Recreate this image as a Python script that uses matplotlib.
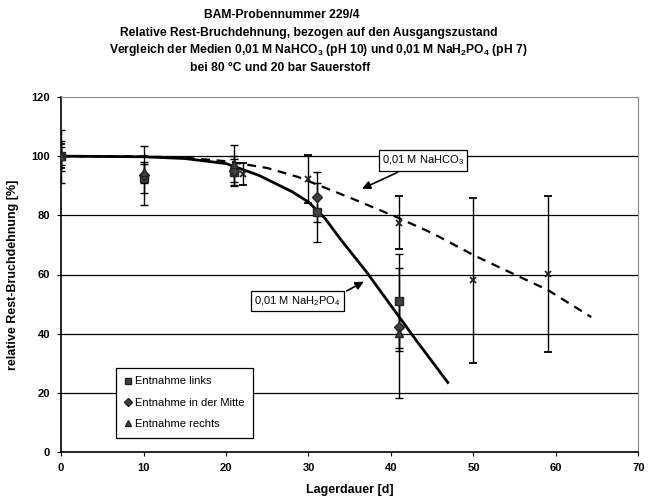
import matplotlib.pyplot as plt

plt.rcParams['font.family'] = ['Liberation Sans', 'DejaVu Sans']
plt.rcParams['mathtext.fontset'] = 'custom'
plt.rcParams['mathtext.rm'] = 'Liberation Sans'
plt.rcParams['mathtext.bf'] = 'Liberation Sans:bold'

# Entnahme links (Quadrat)
days_links = [0, 10, 21, 31, 41]
val_links = [100, 92.5, 94.7, 81, 51]
err_links = [9, 5, 4.4, 10, 16]

# Entnahme in der Mitte (Raute)
days_mitte = [0, 10, 21, 31, 41]
val_mitte = [100, 93.5, 95, 86.2, 42.3]
err_mitte = [3, 10, 5, 8.6, 8]

# Entnahme rechts (Dreieck)
days_rechts = [0, 10, 21, 41]
val_rechts = [100, 94.5, 97.5, 40.2]
err_rechts = [5, 3.5, 6.3, 22]

# NaHCO3-Proben (x)
days_hco3 = [0, 22, 30, 41, 50, 59]
val_hco3 = [100, 94, 92.3, 77.5, 58, 60.2]
err_hco3 = [4, 3.8, 8, 9, 28, 26.5]

# Trendlinien
trend_po4_x = [0, 10, 15, 20, 24, 28, 30, 32, 34, 37, 40, 43, 46.9]
trend_po4_y = [100, 99.8, 99.2, 97.5, 93.5, 88, 84.5, 79, 71.5, 61, 49.5, 38, 23.5]
trend_hco3_x = [0, 10, 15, 20, 25, 28.7, 31.4, 35, 40.6, 45, 50.2, 55, 59, 64.3]
trend_hco3_y = [100, 99.9, 99.5, 98.3, 96, 93, 90, 86, 79.5, 74, 66.3, 60, 54.8, 45.6]

fig = plt.figure(figsize=(6.5, 5), dpi=100)
ax = fig.add_axes([0.094, 0.096, 0.888, 0.71])

for y in [20, 40, 60, 80, 100]:
    ax.axhline(y, color='black', lw=0.9, zorder=1)

ax.plot(trend_po4_x, trend_po4_y, color='black', lw=2, zorder=3)
ax.plot(trend_hco3_x, trend_hco3_y, color='black', lw=1.6, dashes=(4, 3), zorder=3)

eb = dict(ecolor='black', elinewidth=1, capsize=3, capthick=1, linestyle='none', zorder=4)
ax.errorbar(days_hco3, val_hco3, yerr=err_hco3, marker='x', ms=5, mec='#222222', mew=1.3, **eb)
ax.errorbar(days_links, val_links, yerr=err_links, marker='s', ms=6, color='#404040', mec='#222222',
            label='Entnahme links', **eb)
ax.errorbar(days_mitte, val_mitte, yerr=err_mitte, marker='D', ms=5, color='#404040', mec='#222222',
            label='Entnahme in der Mitte', **eb)
ax.errorbar(days_rechts, val_rechts, yerr=err_rechts, marker='^', ms=6, color='#404040', mec='#222222',
            label='Entnahme rechts', **eb)

ax.set_xlim(0, 70)
ax.set_ylim(0, 120)
ax.set_xticks(range(0, 71, 10))
ax.set_yticks(range(0, 121, 20))
ax.tick_params(labelsize=8, length=3, width=0.8, pad=5)
for lab in ax.get_xticklabels() + ax.get_yticklabels():
    lab.set_fontweight('bold')
for s in ['top', 'right']:
    ax.spines[s].set_color('#888888')
for s in ['left', 'bottom']:
    ax.spines[s].set_linewidth(1.2)

ax.set_xlabel('Lagerdauer [d]', fontsize=9, fontweight='bold', labelpad=8)
ax.set_ylabel('relative Rest-Bruchdehnung [%]', fontsize=9, fontweight='bold', labelpad=9)

handles, labels = ax.get_legend_handles_labels()
handles = [h[0] for h in handles]
leg = ax.legend(handles, labels, loc='lower left', bbox_to_anchor=(0.085, 0.025), fontsize=8,
                frameon=True, fancybox=False, edgecolor='black', framealpha=1, handlelength=0.6,
                handletextpad=0.3, labelspacing=1.0, borderpad=0.8, markerscale=0.8)
leg.get_frame().set_linewidth(0.9)

box = dict(boxstyle='square,pad=0.3', fc='white', ec='black', lw=0.9)
arrow = dict(arrowstyle='-|>', color='black', lw=1.2, mutation_scale=12)
ax.annotate('0,01 M NaHCO$_{3}$', xy=(36.2, 88.6), xytext=(38.9, 98.5), fontsize=8,
            va='center', ha='left', bbox=box, arrowprops=arrow, zorder=6)
ax.annotate('0,01 M NaH$_{2}$PO$_{4}$', xy=(37, 58), xytext=(23.4, 51), fontsize=8,
            va='center', ha='left', bbox=box, zorder=6,
            arrowprops=dict(relpos=(1, 1), **arrow))

tfont = dict(fontsize=8.7, fontweight='bold', ha='center', va='center')
fig.text(0.433, 0.970, 'BAM-Probennummer 229/4', **tfont)
fig.text(0.475, 0.934, 'Relative Rest-Bruchdehnung, bezogen auf den Ausgangszustand', **tfont)
fig.text(0.490, 0.899, r'Vergleich der Medien 0,01 M NaHCO$_{\mathbf{3}}$ (pH 10) und 0,01 M NaH$_{\mathbf{2}}$PO$_{\mathbf{4}}$ (pH 7)', **tfont)
fig.text(0.431, 0.864, 'bei 80 °C und 20 bar Sauerstoff', **tfont)

fig.savefig('out.png', dpi=100)
